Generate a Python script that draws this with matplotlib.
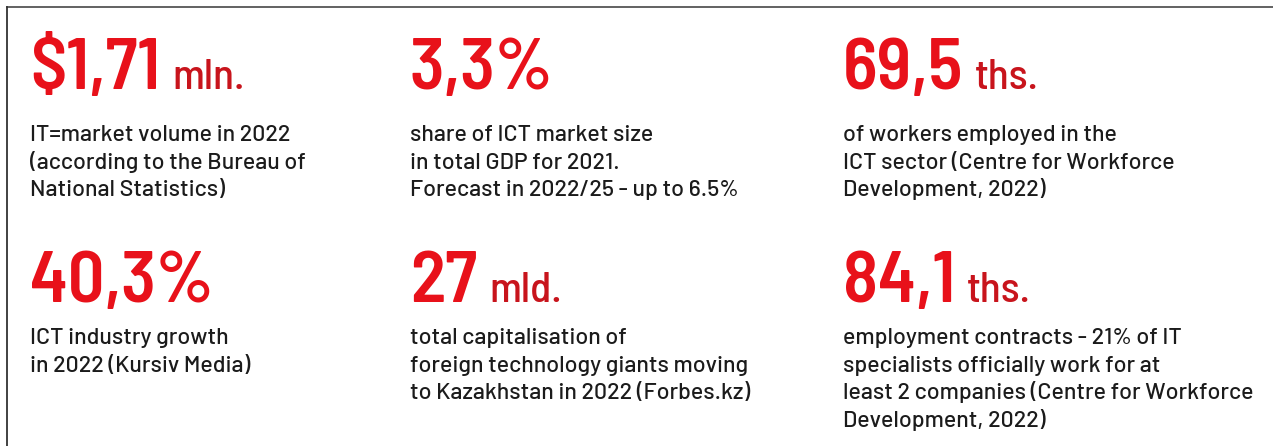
import matplotlib
matplotlib.use("Agg")
import matplotlib.pyplot as plt

# values shown on the card (row by row, left to right)
numbers = ["$1,71", "3,3%", "69,5", "40,3%", "27", "84,1"]
units = ["mln.", "", "ths.", "", "mld.", "ths."]
descriptions = [
    "IT=market volume in 2022\n(according to the Bureau of\nNational Statistics)",
    "share of ICT market size\nin total GDP for 2021.\nForecast in 2022/25 - up to 6.5%",
    "of workers employed in the\nICT sector (Centre for Workforce\nDevelopment, 2022)",
    "ICT industry growth\nin 2022 (Kursiv Media)",
    "total capitalisation of\nforeign technology giants moving\nto Kazakhstan in 2022 (Forbes.kz)",
    "employment contracts - 21% of IT\nspecialists officially work for at\nleast 2 companies (Centre for Workforce\nDevelopment, 2022)",
]

big_font = ["Barlow Semi Condensed", "DejaVu Sans"]
text_font = ["Barlow", "Barlow Semi Condensed", "DejaVu Sans"]

W, H = 1273, 446
fig = plt.figure(figsize=(W / 100, H / 100), dpi=100)
ax = fig.add_axes([0, 0, 1, 1])
ax.set_xlim(0, W)
ax.set_ylim(H, 0)
ax.axis("off")

# frame (open at right/bottom, like the cropped screenshot)
ax.plot([7, W], [7, 7], color="#555555", lw=1.3)
ax.plot([7, 7], [7, H], color="#333333", lw=1.3)

col_x = [30, 410, 843]
num_base = [89, 302]
desc_base = [141, 344]
line_gap = 27.6

red = "#e8111a"
dark_red = "#c8141c"

fig.canvas.draw()
renderer = fig.canvas.get_renderer()

for i in range(6):
    r, c = divmod(i, 3)
    x = col_x[c]
    t = ax.text(x, num_base[r], numbers[i], color=red, fontsize=52,
                family=big_font, fontweight=600, va="baseline", ha="left")
    if units[i]:
        bb = t.get_window_extent(renderer)
        ax.text(bb.x1 + 12, num_base[r], units[i], color=dark_red, fontsize=31,
                family=big_font, fontweight=500, va="baseline", ha="left")
    for k, line in enumerate(descriptions[i].split("\n")):
        ax.text(x, desc_base[r] + k * line_gap, line, color="#1b1b1b",
                fontsize=16.7, family=text_font, fontweight=500,
                va="baseline", ha="left")

fig.savefig("out.png", dpi=100)
